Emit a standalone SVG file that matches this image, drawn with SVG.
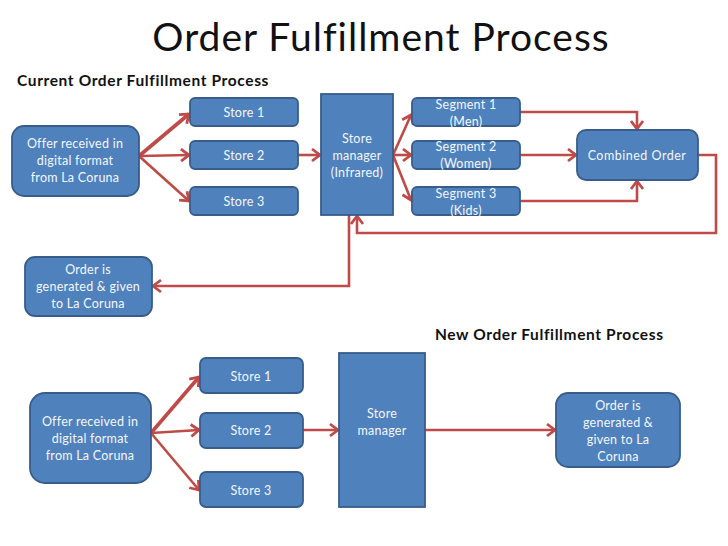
<svg xmlns="http://www.w3.org/2000/svg" width="728" height="546" viewBox="0 0 728 546">
<style>
.n{fill:#4f81bd;stroke:#385d8a;stroke-width:1.8}
.t{font-family:"Lato","Noto Sans",sans-serif;font-size:12.5px;fill:#f4f7fb;text-anchor:middle;letter-spacing:.25px}
.h{font-family:"Lato","Noto Sans",sans-serif;font-weight:700;font-size:15.5px;fill:#111;letter-spacing:.62px}
.c{fill:none;stroke:#be4b48;stroke-width:2.6;stroke-linejoin:miter}
.a{marker-end:url(#ah)}
.b{stroke-width:3.6}
</style>
<defs>
<marker id="ah" markerUnits="userSpaceOnUse" markerWidth="14" markerHeight="16" refX="11" refY="8" orient="auto">
<path d="M3 2L11 8L3 14" fill="none" stroke="#be4b48" stroke-width="2.8"/>
</marker>
</defs>
<rect width="728" height="546" fill="#fff"/>
<text x="381" y="51" text-anchor="middle" style="font-family:Lato,'Noto Sans',sans-serif;font-size:39px;fill:#111;letter-spacing:1px">Order Fulfillment Process</text>
<text class="h" x="17" y="86">Current Order Fulfillment Process</text>
<text class="h" x="435" y="340">New Order Fulfillment Process</text>
<g id="connectors">
<path class="c a b" d="M139 156L189 114"/>
<path class="c a" d="M139 156L189 155"/>
<path class="c a" d="M139 156L189 201"/>
<path class="c a" d="M298 155L320 155"/>
<path class="c a" d="M393 155L411 115"/>
<path class="c a" d="M393 155L411 155"/>
<path class="c a" d="M393 155L411 200"/>
<path class="c a" d="M520 112H637V129"/>
<path class="c a" d="M520 155H576"/>
<path class="c a" d="M520 201H637V181"/>
<path class="c a" d="M698 155H716V233H357V216"/>
<path class="c a" d="M349 215V286H153"/>
<path class="c a b" d="M151 433L199 377"/>
<path class="c a" d="M151 433L199 430"/>
<path class="c a" d="M151 433L199 490"/>
<path class="c a" d="M303 430H338"/>
<path class="c a" d="M425 430H555"/>
</g>
<g id="offer1"><rect class="n" x="12" y="126" width="127" height="70" rx="12"/><text class="t" x="75" y="148">Offer received in</text><text class="t" x="75" y="165">digital format</text><text class="t" x="75" y="182">from La Coruna</text></g>
<g id="store1a"><rect class="n" x="190" y="98" width="108" height="28" rx="5"/><text class="t" x="244" y="117">Store 1</text></g>
<g id="store2a"><rect class="n" x="190" y="141" width="108" height="28" rx="5"/><text class="t" x="244" y="160">Store 2</text></g>
<g id="store3a"><rect class="n" x="190" y="187" width="108" height="28" rx="5"/><text class="t" x="244" y="206">Store 3</text></g>
<g id="manager1"><rect class="n" x="321" y="94" width="72" height="121"/><text class="t" x="357" y="143">Store</text><text class="t" x="357" y="160">manager</text><text class="t" x="357" y="177">(Infrared)</text></g>
<g id="segment1"><rect class="n" x="412" y="98" width="108" height="28" rx="5"/><text class="t" x="466" y="109">Segment 1</text><text class="t" x="466" y="126">(Men)</text></g>
<g id="segment2"><rect class="n" x="412" y="141" width="108" height="28" rx="5"/><text class="t" x="466" y="151">Segment 2</text><text class="t" x="466" y="168">(Women)</text></g>
<g id="segment3"><rect class="n" x="412" y="187" width="108" height="28" rx="5"/><text class="t" x="466" y="198">Segment 3</text><text class="t" x="466" y="215">(Kids)</text></g>
<g id="combined"><rect class="n" x="577" y="130" width="121" height="50" rx="9"/><text class="t" x="637" y="160" style="letter-spacing:.5px">Combined Order</text></g>
<g id="order1"><rect class="n" x="25" y="257" width="127" height="59" rx="10"/><text class="t" x="88" y="274">Order is</text><text class="t" x="88" y="291">generated &amp; given</text><text class="t" x="88" y="308">to La Coruna</text></g>
<g id="offer2"><rect class="n" x="30" y="393" width="121" height="90" rx="15"/><text class="t" x="90" y="426">Offer received in</text><text class="t" x="90" y="443">digital format</text><text class="t" x="90" y="460">from La Coruna</text></g>
<g id="store1b"><rect class="n" x="200" y="358" width="103" height="35" rx="6"/><text class="t" x="251" y="381">Store 1</text></g>
<g id="store2b"><rect class="n" x="200" y="413" width="103" height="35" rx="6"/><text class="t" x="251" y="435">Store 2</text></g>
<g id="store3b"><rect class="n" x="200" y="472" width="103" height="35" rx="6"/><text class="t" x="251" y="495">Store 3</text></g>
<g id="manager2"><rect class="n" x="339" y="353" width="86" height="154"/><text class="t" x="382" y="418">Store</text><text class="t" x="382" y="435">manager</text></g>
<g id="order2"><rect class="n" x="556" y="393" width="124" height="74" rx="12"/><text class="t" x="618" y="410">Order is</text><text class="t" x="618" y="427">generated &amp;</text><text class="t" x="618" y="444">given to La</text><text class="t" x="618" y="461">Coruna</text></g>
</svg>
